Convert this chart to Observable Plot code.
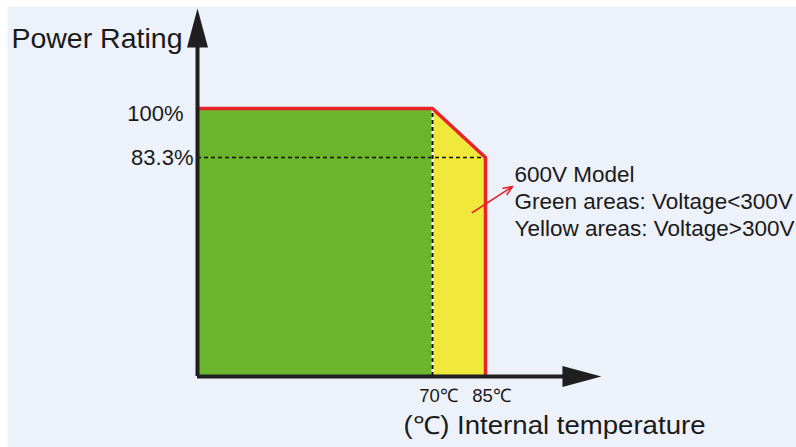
<!DOCTYPE html>
<html>
<head>
<meta charset="utf-8">
<script src="https://cdn.jsdelivr.net/npm/d3@7"></script>
<script src="https://cdn.jsdelivr.net/npm/@observablehq/plot@0.6"></script>
<style>
  html, body { margin: 0; padding: 0; background: #ffffff; }
  svg { display: block; }
</style>
</head>
<body>
<div id="chart"></div>
<script>
// ---- data ----
const greenZone = [ {t: 3.5, p: 100}, {t: 70, p: 100} ];          // Voltage < 300V
const yellowZone = [ {t: 70, p: 100}, {t: 85, p: 83.3} ];         // Voltage > 300V
const deratingCurve = [ {t: 3.5, p: 100}, {t: 70, p: 100}, {t: 85, p: 83.3}, {t: 85, p: 8.7} ];
const yTicks = [ {p: 100, label: "100%"}, {p: 83.3, label: "83.3%"} ];
const xTicks = [ {t: 70, label: "70℃"}, {t: 85, label: "85℃"} ];
const annotationLines = ["600V Model", "Green areas: Voltage<300V", "Yellow areas: Voltage>300V"];
const yAxisTitle = "Power Rating";
const xAxisTitle = "(℃) Internal temperature";

// schematic axis origin (the diagram is not drawn from zero)
const originT = 3.5, originP = 8.7;
const tipT = 117.8, tipP = 134.1;

const W = 796, H = 447;
const xRange = [197, 485], yRange = [376, 108];
const kx = (xRange[1] - xRange[0]) / (85 - originT);   // px per unit
const ky = (yRange[0] - yRange[1]) / (100 - originP);

// arrowheads built from axis ends (length/width in px converted to units)
const headLen = 39, headHalf = 10.5;
const yHead = [
  {t: originT - headHalf / kx, p: tipP - headLen / ky},
  {t: originT, p: tipP},
  {t: originT + headHalf / kx, p: tipP - headLen / ky}
];
const xHead = [
  {t: tipT - headLen / kx, p: originP + headHalf / ky},
  {t: tipT, p: originP},
  {t: tipT - headLen / kx, p: originP - headHalf / ky}
];

const GREEN = "#6ab52c", YELLOW = "#f0e93c", RED = "#e8232b", AXIS = "#1f1f22", BG = "#edf1f9";
const FONT = "Liberation Sans, Arial, sans-serif";
const INK = "#1a1a1a";

const annotationMarks = annotationLines.map((line, i) =>
  Plot.text([line], {
    x: 85, y: 83.3, text: d => d,
    dx: 29, dy: 17 + i * 27,
    textAnchor: "start", fontSize: 22.5, fill: INK
  })
);

const plot = Plot.plot({
  width: W, height: H,
  margin: 0,
  x: {domain: [originT, 85], range: xRange, axis: null},
  y: {domain: [originP, 100], range: yRange, axis: null},
  style: {fontFamily: FONT, background: "#ffffff"},
  marks: [
    Plot.frame({fill: BG, stroke: null, insetLeft: 7, insetTop: 6}),
    Plot.areaY(greenZone, {x: "t", y1: originP, y2: "p", fill: GREEN}),
    Plot.areaY(yellowZone, {x: "t", y1: originP, y2: "p", fill: YELLOW}),
    // dashed guide lines
    Plot.ruleY([83.3], {x1: originT, x2: 85, stroke: "#111", strokeWidth: 1.6, strokeDasharray: "4,3"}),
    Plot.ruleX([70], {y1: originP, y2: 100, stroke: "#ffffff", strokeWidth: 2}),
    Plot.ruleX([70], {y1: originP, y2: 100, stroke: "#111", strokeWidth: 2, strokeDasharray: "4,3"}),
    // derating outline
    Plot.line(deratingCurve, {x: "t", y: "p", stroke: RED, strokeWidth: 3.5, strokeLinejoin: "miter"}),
    // axes
    Plot.ruleX([originT], {y1: originP, y2: tipP - headLen / ky + 1, stroke: AXIS, strokeWidth: 4}),
    Plot.ruleY([originP], {x1: originT, x2: tipT - headLen / kx + 1, stroke: AXIS, strokeWidth: 4}),
    Plot.line(yHead, {x: "t", y: "p", fill: AXIS, stroke: "none"}),
    Plot.line(xHead, {x: "t", y: "p", fill: AXIS, stroke: "none"}),
    // tick labels
    Plot.text(yTicks.slice(0, 1), {x: originT, y: "p", text: "label", textAnchor: "end", dx: -14, dy: 5, fontSize: 22, fill: INK}),
    Plot.text(yTicks.slice(1), {x: originT, y: "p", text: "label", textAnchor: "end", dx: -4, dy: 0, fontSize: 22, fill: INK}),
    Plot.text(xTicks, {x: "t", y: originP, text: "label", textAnchor: "middle", dx: 6, dy: 20, fontSize: 18.5, fill: INK}),
    // axis titles
    Plot.text([yAxisTitle], {x: originT, y: tipP, text: d => d, textAnchor: "end", dx: -15, dy: 30, fontSize: 28.5, fill: INK}),
    Plot.text([xAxisTitle], {x: 70, y: originP, text: d => d, textAnchor: "start", dx: -29, dy: 49, fontSize: 25, fill: INK}),
    // annotation arrow
    Plot.arrow([0], {
      x1: () => 85 - 13 / kx, y1: () => 83.3 - 55 / ky,
      x2: () => 85 + 27 / kx, y2: () => 83.3 - 29 / ky,
      stroke: RED, strokeWidth: 1.6, headLength: 9, headAngle: 45
    }),
    ...annotationMarks
  ]
});

// stretch the x-axis title to the reference's wider set width
d3.select(plot).selectAll("text")
  .filter(function() { return this.textContent === xAxisTitle; })
  .attr("textLength", 302)
  .attr("lengthAdjust", "spacingAndGlyphs");

document.getElementById("chart").appendChild(plot);
</script>
</body>
</html>
